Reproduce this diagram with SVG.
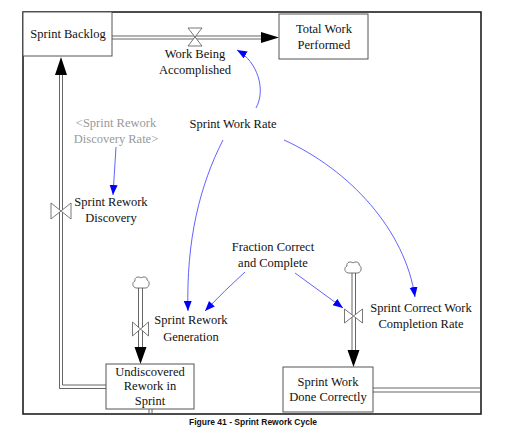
<svg xmlns="http://www.w3.org/2000/svg" width="505" height="437" viewBox="0 0 505 437">
<defs>
<style>
.t{font-family:'Liberation Serif',serif;font-size:12.5px;fill:#111;text-anchor:middle}
.g{fill:#999}
.box{fill:#fff;stroke:#555;stroke-width:1}
.pipe{fill:none;stroke:#555;stroke-width:0.9}
.valve{fill:#fff;stroke:#555;stroke-width:0.8}
.cloud{fill:#fff;stroke:#555;stroke-width:0.8}
.link{fill:none;stroke:#3a3aff;stroke-width:0.8}
.cap{font-family:'Liberation Sans',sans-serif;font-size:8.5px;font-weight:bold;fill:#111;text-anchor:middle}
</style>
<marker id="ba" markerUnits="userSpaceOnUse" markerWidth="12" markerHeight="10" refX="10" refY="4" orient="auto">
<path d="M0,0 L10,4 L0,8 Z" fill="#0000ff"/>
</marker>
</defs>
<rect x="23" y="12" width="458" height="402" fill="none" stroke="#111" stroke-width="1.5"/>
<g id="connectors">
<line class="pipe" x1="112" y1="36" x2="262" y2="36"/>
<line class="pipe" x1="112" y1="39" x2="262" y2="39"/>
<path d="M261,32 L279,37.5 L261,43 Z" fill="#000"/>
<path class="pipe" d="M106,385 L62.5,385 L62.5,75"/>
<path class="pipe" d="M106,388.5 L59.5,388.5 L59.5,75"/>
<path d="M55,75 L61,57 L67,75 Z" fill="#000"/>
<line class="pipe" x1="138.5" y1="288" x2="138.5" y2="348"/>
<line class="pipe" x1="142.5" y1="288" x2="142.5" y2="348"/>
<path d="M134.5,347 L140.5,364 L146.5,347 Z" fill="#000"/>
<line class="pipe" x1="352" y1="273" x2="352" y2="351"/>
<line class="pipe" x1="355.5" y1="273" x2="355.5" y2="351"/>
<path d="M347.5,350 L353.5,367 L359.5,350 Z" fill="#000"/>
<line class="pipe" x1="373" y1="388" x2="480" y2="388"/>
<line class="pipe" x1="373" y1="392" x2="480" y2="392"/>
<line class="pipe" x1="149" y1="409" x2="149" y2="414"/>
<line class="pipe" x1="152" y1="409" x2="152" y2="414"/>
<path class="link" d="M256,108 C266,90 258,62 237,50" marker-end="url(#ba)"/>
<path class="link" d="M116,147 L113,195" marker-end="url(#ba)"/>
<path class="link" d="M223,140 C200,185 186,240 188,311" marker-end="url(#ba)"/>
<path class="link" d="M245,272 Q225,290 205,311" marker-end="url(#ba)"/>
<path class="link" d="M295,273 L343,308" marker-end="url(#ba)"/>
<path class="link" d="M284,140 C350,170 405,230 415,297" marker-end="url(#ba)"/>
</g>
<g id="sprint-backlog">
<rect class="box" x="23" y="12" width="89" height="44"/>
<text class="t" x="68" y="38">Sprint Backlog</text>
</g>
<g id="total-work-performed">
<rect class="box" x="279" y="14" width="89" height="45"/>
<text class="t" x="324" y="33">Total Work</text>
<text class="t" x="324" y="49">Performed</text>
</g>
<g id="work-being-accomplished">
<path class="valve" d="M188,28 L202,28 L195,37 Z M188,46 L202,46 L195,37 Z"/>
<text class="t" x="195" y="58">Work Being</text>
<text class="t" x="195" y="74">Accomplished</text>
</g>
<g id="sprint-work-rate">
<text class="t" x="233" y="128">Sprint Work Rate</text>
</g>
<g id="sprint-rework-discovery-rate">
<text class="t g" x="116" y="127">&lt;Sprint Rework</text>
<text class="t g" x="116" y="143">Discovery Rate&gt;</text>
</g>
<g id="sprint-rework-discovery">
<path class="valve" d="M51,203 L51,219 L61,211 Z M71,203 L71,219 L61,211 Z"/>
<text class="t" x="111" y="206">Sprint Rework</text>
<text class="t" x="111" y="222">Discovery</text>
</g>
<g id="fraction-correct">
<text class="t" x="273" y="251">Fraction Correct</text>
<text class="t" x="273" y="267">and Complete</text>
</g>
<g id="cloud-rework">
<path class="cloud" d="M136,288 C132,287 132,282 135,281 C134,277 139,276 141,278 C143,276 148,277 147,280 C150,281 150,287 146,288 Z"/>
</g>
<g id="sprint-rework-generation">
<path class="valve" d="M132.5,322 L132.5,336 L140.5,329 Z M148.5,322 L148.5,336 L140.5,329 Z"/>
<text class="t" x="191" y="324">Sprint Rework</text>
<text class="t" x="191" y="341">Generation</text>
</g>
<g id="cloud-correct">
<path class="cloud" d="M348,273 C344,272 344,267 347,266 C346,262 351,261 353,263 C355,261 360,262 359,265 C362,266 362,272 358,273 Z"/>
</g>
<g id="sprint-correct-work-completion-rate">
<path class="valve" d="M344.5,309 L344.5,323 L353.5,316 Z M362.5,309 L362.5,323 L353.5,316 Z"/>
<text class="t" x="421" y="312">Sprint Correct Work</text>
<text class="t" x="421" y="328">Completion Rate</text>
</g>
<g id="undiscovered-rework">
<rect class="box" x="106" y="364" width="88" height="45"/>
<text class="t" x="150" y="376">Undiscovered</text>
<text class="t" x="150" y="390">Rework in</text>
<text class="t" x="150" y="405">Sprint</text>
</g>
<g id="sprint-work-done-correctly">
<rect class="box" x="283" y="367" width="90" height="45"/>
<text class="t" x="328" y="386">Sprint Work</text>
<text class="t" x="328" y="401">Done Correctly</text>
</g>
<text class="cap" x="253" y="425">Figure 41 - Sprint Rework Cycle</text>
</svg>
